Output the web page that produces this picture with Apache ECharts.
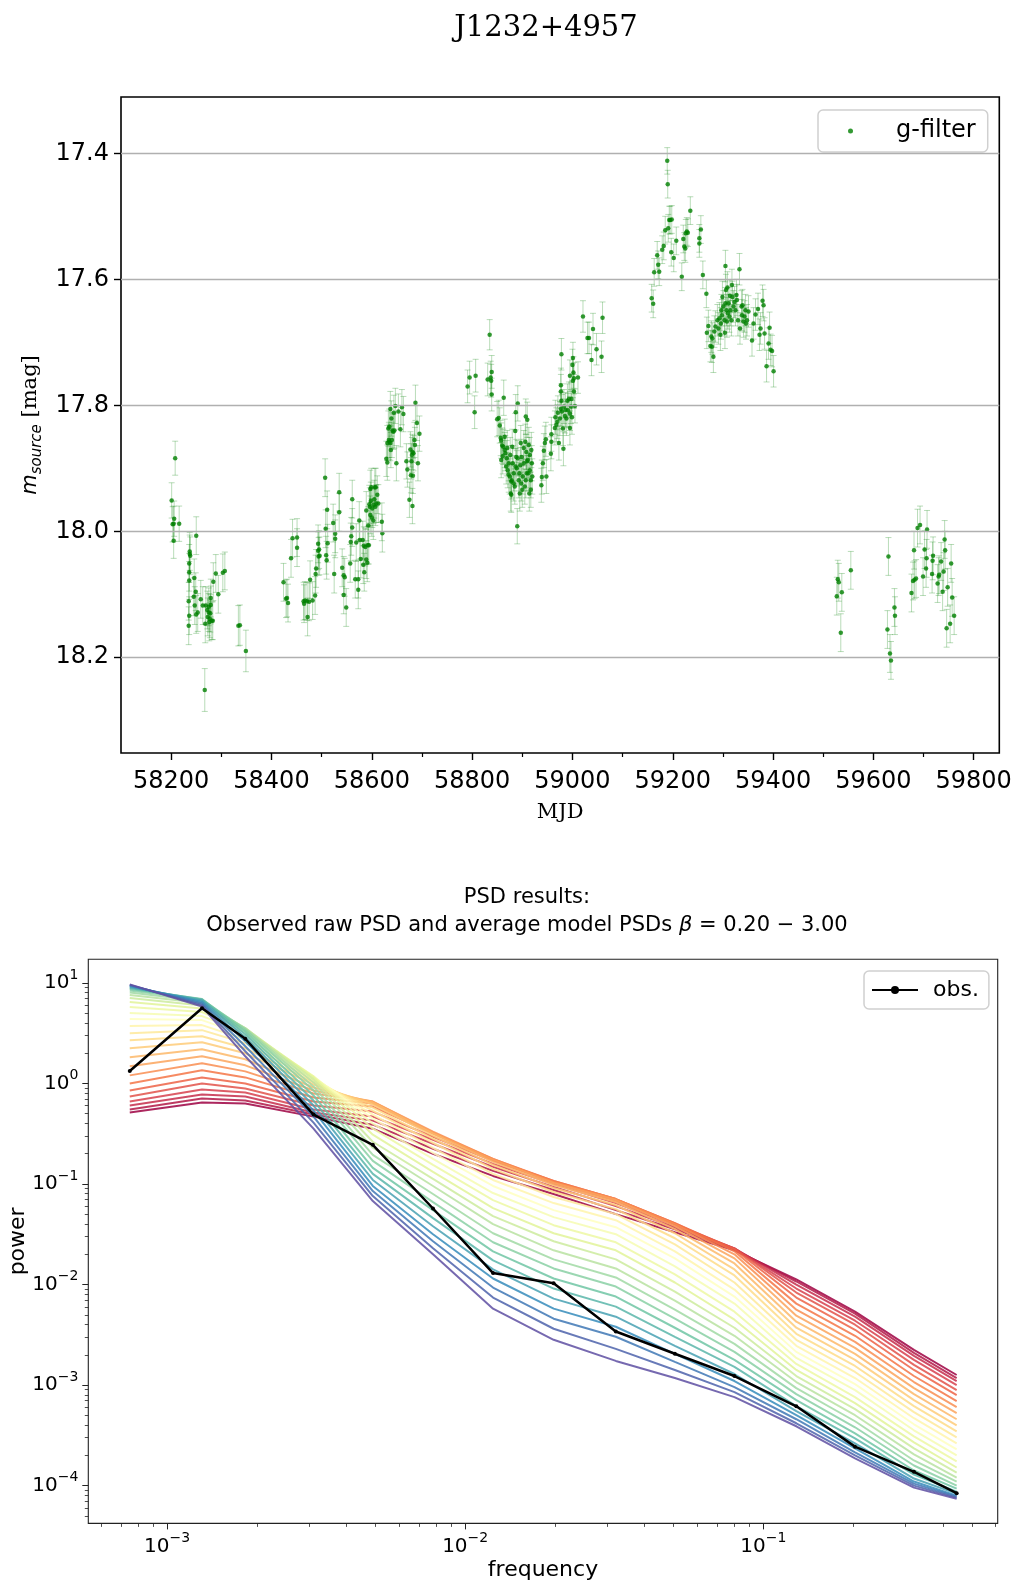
<!DOCTYPE html>
<html><head><meta charset="utf-8">
<script src="https://cdn.jsdelivr.net/npm/echarts@6/dist/echarts.min.js"></script>
<style>html,body{margin:0;padding:0;background:#fff}#c{width:1018px;height:1584px}</style>
</head><body><div id="c"></div>
<script>
// ===== Light curve (g-filter): [MJD, m_source, error] =====
const lc2018a = [
[58201,17.951,0.028],[58203,17.989,0.028],[58205,17.988,0.028],[58206,17.980,0.028],[58205,18.015,0.028],[58208,17.884,0.027],[58216,17.988,0.028],
[58235,18.150,0.030],[58236,18.134,0.030],[58235,18.111,0.030],[58236,18.078,0.030],[58236,18.065,0.030],[58236,18.051,0.030],[58237,18.036,0.030],[58237,18.032,0.030],[58238,18.039,0.030],
[58245,18.104,0.030],[58247,18.118,0.030],[58246,18.074,0.030],[58249,18.096,0.030],[58250,18.007,0.030],[58250,18.132,0.030],[58253,18.129,0.030],[58259,18.108,0.030],[58263,18.118,0.030],
[58268,18.147,0.030],[58269,18.118,0.030],[58272,18.125,0.030],[58273,18.136,0.030],[58275,18.129,0.030],[58275,18.120,0.030],[58276,18.144,0.030],[58277,18.139,0.030],[58278,18.130,0.030],
[58279,18.106,0.030],[58279,18.117,0.030],[58281,18.142,0.030],[58283,18.142,0.030],[58284,18.080,0.030],[58289,18.067,0.030],[58294,18.100,0.030],[58303,18.066,0.030],[58307,18.063,0.030],
[58267,18.252,0.034],[58334,18.150,0.032],[58337,18.149,0.032],[58349,18.190,0.033]
];
const lc2018b = [
[58424,18.081,0.030],[58429,18.107,0.030],[58431,18.106,0.030],[58433,18.114,0.030],[58439,18.043,0.030],[58442,18.011,0.030],[58451,18.010,0.030],[58451,18.026,0.030],
[58464,18.111,0.030],[58465,18.115,0.030],[58467,18.110,0.030],[58471,18.111,0.030],[58472,18.136,0.030],[58475,18.112,0.030],[58477,18.077,0.030],[58482,18.110,0.030],
[58487,18.102,0.030],[58488,18.068,0.030],[58489,18.059,0.030],[58493,18.020,0.030],[58493,18.031,0.030],[58494,18.040,0.030],[58495,18.029,0.030],[58496,18.039,0.030],
[58507,17.915,0.030],[58508,17.996,0.030],[58509,18.038,0.030],[58510,18.046,0.030],[58511,17.966,0.030],[58512,18.019,0.030],[58523,17.987,0.030],[58525,18.068,0.030],
[58527,18.004,0.030],[58527,18.012,0.030],[58535,17.938,0.030],[58535,17.970,0.030],[58541,18.058,0.030],[58544,18.070,0.030],[58546,18.073,0.030],[58544,18.101,0.030],
[58549,18.121,0.030],[58557,18.051,0.030],[58558,18.017,0.030],[58559,18.008,0.030],[58561,17.994,0.030],[58561,17.949,0.030],[58567,18.076,0.030],[58569,18.018,0.030],
[58573,18.076,0.030],[58573,18.093,0.030],[58575,17.983,0.030],[58576,18.014,0.030],[58578,18.044,0.030],[58582,18.014,0.030],[58583,18.053,0.030],[58584,18.023,0.030],
[58585,18.065,0.030],[58587,18.025,0.030],[58589,17.967,0.030],[58589,18.045,0.030],[58591,18.050,0.030],[58592,18.022,0.030],[58593,17.991,0.030],[58594,18.022,0.030],
[58595,17.957,0.030],[58596,17.961,0.030],[58597,17.974,0.030],[58597,17.933,0.030],[58598,17.952,0.030],[58599,17.930,0.030],[58600,17.978,0.030],[58601,17.964,0.030],
[58603,17.983,0.030],[58604,17.958,0.030],[58605,17.949,0.030],[58606,17.930,0.030],[58607,17.961,0.030],[58608,17.930,0.030],[58609,17.956,0.030],[58611,17.942,0.030],
[58613,17.956,0.030],[58620,17.985,0.030],[58621,18.003,0.030]
];
const lc2019a = [
[58629,17.885,0.028],[58631,17.891,0.028],[58631,17.860,0.028],[58633,17.837,0.028],[58634,17.855,0.028],[58635,17.858,0.028],[58635,17.834,0.028],[58637,17.860,0.028],
[58637,17.806,0.028],[58638,17.871,0.028],[58639,17.821,0.028],[58640,17.855,0.028],[58641,17.840,0.028],[58643,17.842,0.028],[58644,17.812,0.028],[58645,17.840,0.028],
[58647,17.801,0.028],[58649,17.892,0.028],[58653,17.810,0.028],[58657,17.838,0.028],[58660,17.803,0.028],[58663,17.814,0.028],[58669,17.889,0.028],[58671,17.902,0.028],
[58675,17.950,0.028],[58677,17.870,0.028],[58678,17.911,0.028],[58679,17.889,0.028],[58680,17.879,0.028],[58681,17.874,0.028],[58681,17.960,0.028],[58682,17.912,0.028],
[58683,17.876,0.028],[58685,17.855,0.028],[58686,17.863,0.028],[58687,17.796,0.028],[58690,17.828,0.028],[58692,17.892,0.028],[58695,17.845,0.028]
];
const lc2019b = [
[58791,17.770,0.026],[58795,17.756,0.026],[58805,17.811,0.026],[58807,17.753,0.026],[58831,17.759,0.026],[58835,17.688,0.024],[58837,17.756,0.026],[58838,17.761,0.026],[58839,17.747,0.026],[58839,17.783,0.026],
[58850,17.822,0.028],[58853,17.820,0.028],[58855,17.832,0.028],[58857,17.852,0.028],[58858,17.856,0.028],[58858,17.887,0.028],[58860,17.864,0.028],[58862,17.866,0.028],[58863,17.788,0.028],[58865,17.871,0.028],
[58866,17.876,0.028],[58868,17.897,0.028],[58869,17.884,0.028],[58871,17.903,0.028],[58873,17.910,0.028],[58875,17.913,0.028],[58877,17.940,0.028],[58878,17.921,0.028],[58879,17.919,0.028],[58881,17.892,0.028],
[58883,17.908,0.028],[58885,17.929,0.028],[58886,17.841,0.028],[58887,17.811,0.028],[58888,17.882,0.028],[58889,17.900,0.028],[58890,17.992,0.028],[58891,17.797,0.028],[58893,17.919,0.028],[58895,17.940,0.028],
[58896,17.895,0.028],[58898,17.924,0.028],[58899,17.882,0.028],[58901,17.913,0.028],[58903,17.892,0.028],[58905,17.929,0.028],[58906,17.858,0.028],[58907,17.818,0.028],[58908,17.874,0.028],[58909,17.908,0.028],
[58910,17.823,0.028],[58911,17.887,0.028],[58913,17.863,0.028],[58914,17.940,0.028],[58915,17.903,0.028],[58917,17.919,0.028],[58918,17.871,0.028],[58919,17.892,0.028],
[58861,17.881,0.028],[58865,17.850,0.028],[58870,17.868,0.028],[58873,17.892,0.028],[58876,17.879,0.028],[58880,17.866,0.028],[58883,17.924,0.028],[58887,17.897,0.028],[58891,17.884,0.028],[58894,17.908,0.028],
[58897,17.860,0.028],[58900,17.934,0.028],[58903,17.868,0.028],[58907,17.919,0.028],[58909,17.889,0.028],[58912,17.908,0.028],[58915,17.879,0.028],[58917,17.934,0.028],[58920,17.913,0.028],[58878,17.942,0.028],
[58938,17.927,0.027],[58939,17.914,0.027],[58941,17.892,0.027],[58943,17.872,0.027],[58945,17.860,0.027],[58947,17.854,0.027],[58948,17.913,0.027],[58957,17.877,0.027],[58958,17.858,0.027],[58958,17.846,0.027],
[58965,17.836,0.027],[58966,17.819,0.027],[58968,17.831,0.027],[58970,17.826,0.027],[58971,17.812,0.027],[58973,17.860,0.027],[58975,17.821,0.027],[58977,17.806,0.027],[58978,17.793,0.027],[58979,17.810,0.027],
[58981,17.837,0.027],[58982,17.869,0.027],[58983,17.802,0.027],[58985,17.817,0.027],[58986,17.807,0.027],[58988,17.821,0.027],[58990,17.793,0.027],[58991,17.808,0.027],[58993,17.790,0.027],[58995,17.813,0.027],
[58995,17.836,0.027],[58997,17.802,0.027],[58998,17.790,0.027],[58999,17.819,0.027],[59001,17.761,0.027],[59003,17.778,0.027],[59005,17.801,0.027],[58977,17.768,0.027],[58977,17.778,0.027],
[58978,17.719,0.025],[59000,17.736,0.025],[59001,17.725,0.025],[59002,17.748,0.025],[59003,17.757,0.025],[59011,17.756,0.025],[58995,17.753,0.025],[59021,17.659,0.025],[59030,17.693,0.025],[59033,17.693,0.025],
[59038,17.728,0.025],[59041,17.679,0.025],[59048,17.711,0.025],[59058,17.723,0.025],[59060,17.661,0.025]
];
const lc2021 = [
[59158,17.630,0.022],[59161,17.639,0.022],[59163,17.589,0.022],[59169,17.562,0.022],[59171,17.577,0.022],[59173,17.588,0.022],[59179,17.553,0.022],[59182,17.547,0.022],[59185,17.522,0.022],[59190,17.449,0.022],
[59189,17.412,0.021],[59191,17.519,0.022],[59193,17.506,0.022],[59195,17.506,0.022],[59198,17.505,0.022],[59197,17.557,0.022],[59202,17.566,0.022],[59207,17.539,0.022],[59218,17.596,0.022],[59221,17.536,0.022],
[59223,17.548,0.022],[59225,17.551,0.022],[59226,17.527,0.022],[59228,17.524,0.022],[59230,17.526,0.022],[59235,17.491,0.022],[59253,17.535,0.022],[59253,17.543,0.022],[59256,17.521,0.022],[59260,17.593,0.022],
[59267,17.623,0.022],
[59268,17.685,0.025],[59271,17.674,0.025],[59275,17.706,0.025],[59277,17.691,0.025],[59278,17.707,0.025],[59279,17.694,0.025],[59281,17.723,0.025],[59283,17.683,0.025],[59285,17.675,0.025],[59289,17.665,0.025],
[59291,17.678,0.025],[59293,17.662,0.025],[59295,17.688,0.025],[59296,17.670,0.025],[59297,17.649,0.025],[59298,17.657,0.025],[59299,17.628,0.025],[59301,17.643,0.025],[59303,17.665,0.025],[59304,17.685,0.025],
[59305,17.638,0.025],[59305,17.579,0.025],[59306,17.617,0.025],[59307,17.649,0.025],[59308,17.667,0.025],[59309,17.613,0.025],[59310,17.654,0.025],[59311,17.638,0.025],[59313,17.659,0.025],[59314,17.626,0.025],
[59315,17.649,0.025],[59317,17.665,0.025],[59318,17.609,0.025],[59319,17.628,0.025],[59321,17.643,0.025],[59323,17.636,0.025],[59325,17.649,0.025],[59327,17.625,0.025],[59328,17.633,0.025],[59330,17.665,0.025],
[59333,17.584,0.025],[59334,17.678,0.025],[59337,17.643,0.025],[59338,17.657,0.025],[59339,17.641,0.025],[59341,17.667,0.025],[59343,17.659,0.025],[59345,17.649,0.025],[59346,17.670,0.025],[59348,17.665,0.025],
[59351,17.651,0.025],[59358,17.697,0.025],[59361,17.670,0.025],[59365,17.656,0.025],[59370,17.647,0.025],[59373,17.688,0.025],[59375,17.678,0.025],[59379,17.634,0.025],[59381,17.641,0.025],[59383,17.686,0.025],
[59387,17.738,0.025],[59391,17.702,0.025],[59393,17.677,0.025],[59395,17.712,0.025],[59398,17.714,0.025],[59401,17.746,0.025]
];
const lc2022 = [
[59527,18.103,0.030],[59529,18.076,0.030],[59531,18.081,0.030],[59537,18.097,0.030],[59535,18.161,0.030],[59555,18.062,0.030],
[59628,18.156,0.030],[59630,18.040,0.030],[59633,18.194,0.030],[59635,18.205,0.030],[59642,18.121,0.030],[59643,18.134,0.030],
[59676,18.098,0.030],[59679,18.079,0.030],[59682,18.077,0.030],[59685,18.075,0.030],[59681,18.030,0.030],[59688,17.995,0.030],[59693,17.990,0.030],[59699,18.072,0.030],
[59702,18.029,0.030],[59705,18.059,0.030],[59706,18.043,0.030],[59707,17.997,0.030],[59717,18.068,0.030],[59718,18.047,0.030],[59719,18.039,0.030],[59728,18.083,0.030],
[59730,18.072,0.030],[59731,18.069,0.030],[59735,18.048,0.030],[59738,18.096,0.030],[59740,18.064,0.030],[59742,18.013,0.030],[59743,18.030,0.030],[59746,18.154,0.030],
[59748,18.089,0.030],[59753,18.147,0.030],[59755,18.051,0.030],[59757,18.105,0.030],[59761,18.134,0.030]
];
const mjdMajorTicks = [58200,58400,58600,58800,59000,59200,59400,59600,59800];
const mjdMinorTicks = [58300,58500,58700,58900,59100,59300,59500,59700];
const magTicks = [17.4,17.6,17.8,18.0,18.2];

// ===== PSD =====
const frequency = [7.5e-4,1.31e-3,1.83e-3,3.1e-3,4.9e-3,7.8e-3,1.24e-2,1.98e-2,3.2e-2,5.05e-2,8.0e-2,0.129,0.203,0.32,0.445];
const obsPower = [1.33,5.6,2.78,0.49,0.245,0.057,0.0130,0.0103,3.41e-3,2.05e-3,1.23e-3,6.15e-4,2.44e-4,1.37e-4,8.4e-5];
const betas = [0.2,0.3,0.4,0.5,0.6,0.7,0.8,0.9,1.0,1.1,1.2,1.3,1.4,1.5,1.6,1.7,1.8,1.9,2.0,2.1,2.2,2.3,2.4,2.5,2.6,2.7,2.8,2.9,3.0];
// log10(model power), one row per frequency, one entry per beta (0.2 ... 3.0)
const modelLogPowerByFreq = [
[-0.29,-0.26,-0.22,-0.18,-0.13,-0.07,0.0,0.08,0.17,0.26,0.35,0.43,0.50,0.57,0.64,0.70,0.76,0.81,0.85,0.88,0.905,0.925,0.94,0.95,0.96,0.97,0.975,0.98,0.985],
[-0.19,-0.15,-0.11,-0.06,0.0,0.06,0.13,0.20,0.27,0.34,0.41,0.47,0.53,0.58,0.63,0.67,0.71,0.745,0.775,0.80,0.82,0.835,0.84,0.835,0.825,0.81,0.795,0.78,0.765],
[-0.20,-0.17,-0.13,-0.09,-0.05,0.0,0.06,0.12,0.18,0.24,0.30,0.35,0.40,0.44,0.48,0.51,0.53,0.545,0.55,0.55,0.545,0.535,0.515,0.49,0.46,0.42,0.37,0.32,0.27],
[-0.33,-0.31,-0.29,-0.26,-0.22,-0.18,-0.14,-0.10,-0.07,-0.04,-0.01,0.01,0.03,0.05,0.06,0.07,0.07,0.06,0.04,0.01,-0.03,-0.07,-0.12,-0.17,-0.22,-0.27,-0.33,-0.39,-0.45],
[-0.45,-0.41,-0.37,-0.33,-0.28,-0.23,-0.20,-0.18,-0.18,-0.19,-0.21,-0.24,-0.27,-0.31,-0.35,-0.40,-0.45,-0.51,-0.58,-0.64,-0.71,-0.77,-0.84,-0.90,-0.96,-1.02,-1.07,-1.12,-1.17],
[-0.70,-0.65,-0.60,-0.56,-0.53,-0.50,-0.49,-0.48,-0.49,-0.50,-0.52,-0.55,-0.59,-0.64,-0.69,-0.75,-0.81,-0.88,-0.95,-1.02,-1.10,-1.18,-1.26,-1.34,-1.42,-1.50,-1.57,-1.64,-1.70],
[-0.92,-0.87,-0.83,-0.80,-0.77,-0.76,-0.75,-0.75,-0.76,-0.78,-0.81,-0.85,-0.90,-0.96,-1.02,-1.09,-1.16,-1.24,-1.32,-1.40,-1.49,-1.58,-1.67,-1.76,-1.85,-1.94,-2.03,-2.13,-2.24],
[-1.10,-1.06,-1.03,-1.00,-0.98,-0.97,-0.97,-0.98,-0.99,-1.01,-1.04,-1.08,-1.13,-1.19,-1.26,-1.33,-1.41,-1.49,-1.57,-1.66,-1.75,-1.84,-1.94,-2.04,-2.14,-2.24,-2.34,-2.44,-2.55],
[-1.30,-1.26,-1.22,-1.19,-1.17,-1.15,-1.15,-1.15,-1.16,-1.18,-1.21,-1.25,-1.30,-1.36,-1.43,-1.50,-1.58,-1.66,-1.75,-1.84,-1.93,-2.02,-2.12,-2.22,-2.32,-2.42,-2.52,-2.64,-2.76],
[-1.48,-1.45,-1.43,-1.41,-1.40,-1.39,-1.39,-1.40,-1.42,-1.45,-1.49,-1.54,-1.60,-1.67,-1.74,-1.82,-1.90,-1.98,-2.07,-2.16,-2.25,-2.34,-2.43,-2.52,-2.61,-2.69,-2.77,-2.85,-2.93],
[-1.66,-1.65,-1.64,-1.64,-1.64,-1.65,-1.67,-1.70,-1.74,-1.79,-1.85,-1.91,-1.98,-2.05,-2.12,-2.19,-2.27,-2.35,-2.43,-2.51,-2.59,-2.67,-2.75,-2.82,-2.89,-2.96,-3.02,-3.07,-3.12],
[-1.95,-1.97,-2.00,-2.04,-2.08,-2.13,-2.19,-2.25,-2.31,-2.37,-2.43,-2.49,-2.55,-2.61,-2.67,-2.73,-2.79,-2.85,-2.91,-2.97,-3.03,-3.09,-3.15,-3.21,-3.26,-3.30,-3.34,-3.38,-3.41],
[-2.27,-2.29,-2.32,-2.36,-2.40,-2.45,-2.51,-2.57,-2.63,-2.69,-2.75,-2.81,-2.87,-2.93,-2.99,-3.05,-3.12,-3.18,-3.24,-3.30,-3.36,-3.42,-3.48,-3.53,-3.58,-3.63,-3.67,-3.70,-3.73],
[-2.65,-2.68,-2.71,-2.75,-2.80,-2.85,-2.91,-2.97,-3.03,-3.09,-3.15,-3.21,-3.27,-3.33,-3.39,-3.45,-3.51,-3.57,-3.63,-3.69,-3.75,-3.80,-3.85,-3.89,-3.93,-3.96,-3.98,-4.00,-4.02],
[-2.90,-2.93,-2.96,-3.00,-3.05,-3.10,-3.16,-3.22,-3.28,-3.34,-3.40,-3.46,-3.52,-3.58,-3.64,-3.70,-3.76,-3.82,-3.87,-3.92,-3.96,-4.00,-4.03,-4.06,-4.08,-4.10,-4.11,-4.12,-4.13]
];
const freqMajorTicks = [0.001,0.01,0.1];
const freqMinorTicks = [6e-4,7e-4,8e-4,9e-4,2e-3,3e-3,4e-3,5e-3,6e-3,7e-3,8e-3,9e-3,0.02,0.03,0.04,0.05,0.06,0.07,0.08,0.09,0.2,0.3,0.4,0.5,0.6];
const powerMajorTicks = [1e-4,1e-3,1e-2,1e-1,1,10];
const powerMinorTicks = [5e-5,6e-5,7e-5,8e-5,9e-5,2e-4,3e-4,4e-4,5e-4,6e-4,7e-4,8e-4,9e-4,2e-3,3e-3,4e-3,5e-3,6e-3,7e-3,8e-3,9e-3,
  0.02,0.03,0.04,0.05,0.06,0.07,0.08,0.09,0.2,0.3,0.4,0.5,0.6,0.7,0.8,0.9,2,3,4,5,6,7,8,9];

// ===== styling helpers =====
const SANS = 'DejaVu Sans', SERIF = 'DejaVu Serif';
const spectral = ['#9e0142','#d53e4f','#f46d43','#fdae61','#fee08b','#ffffbf','#e6f598','#abdda4','#66c2a5','#3288bd','#5e4fa2'];
function hex2rgb(h){return [parseInt(h.slice(1,3),16),parseInt(h.slice(3,5),16),parseInt(h.slice(5,7),16)];}
function spectralColor(t){
  const p = t*(spectral.length-1); const i = Math.min(Math.floor(p), spectral.length-2); const f = p-i;
  const a = hex2rgb(spectral[i]), b = hex2rgb(spectral[i+1]);
  return 'rgb('+a.map((v,j)=>Math.round(v+(b[j]-v)*f)).join(',')+')';
}
function supLabel(v){
  const e = Math.round(Math.log10(v));
  return '{b|10}{s|' + (e<0 ? '\u2212'+(-e) : String(e)) + '}';
}
const supRich = {
  b:{fontSize:20, fontFamily:SANS, color:'#000', lineHeight:30},
  s:{fontSize:14, fontFamily:SANS, color:'#000', verticalAlign:'top', lineHeight:16}
};

const lcAll = [].concat(lc2018a, lc2018b, lc2019a, lc2019b, lc2021, lc2022);

const LC_X = [58100, 59851], LC_Y = [17.3106, 18.352];
const PSD_X = [Math.pow(10,-3.264), Math.pow(10,-0.214)];
const PSD_Y = [Math.pow(10,-4.376), Math.pow(10,1.2346)];

const series = [];
series.push({type:'scatter', xAxisIndex:0, yAxisIndex:0, data:[], silent:true, z:1,
  markLine:{silent:true, symbol:'none', label:{show:false}, animation:false,
    lineStyle:{color:'#b0b0b0', width:1.3, type:'solid'},
    data: magTicks.map(v=>({yAxis:v}))}});
series.push({type:'custom', name:'err', xAxisIndex:0, yAxisIndex:0, silent:true, z:2,
  data: lcAll, encode:{x:0, y:1},
  renderItem:function(params, api){
    const x = api.value(0), y = api.value(1), e = api.value(2);
    const p1 = api.coord([x, y-e]), p2 = api.coord([x, y+e]);
    const st = {stroke:'rgba(0,128,0,0.28)', lineWidth:1};
    return {type:'group', children:[
      {type:'line', shape:{x1:p1[0],y1:p1[1],x2:p2[0],y2:p2[1]}, style:st},
      {type:'line', shape:{x1:p1[0]-3,y1:p1[1],x2:p1[0]+3,y2:p1[1]}, style:st},
      {type:'line', shape:{x1:p2[0]-3,y1:p2[1],x2:p2[0]+3,y2:p2[1]}, style:st}
    ]};
  }});
series.push({type:'scatter', name:'g-filter', xAxisIndex:0, yAxisIndex:0, z:3,
  data: lcAll.map(d=>[d[0],d[1]]), symbol:'circle', symbolSize:4.5,
  itemStyle:{color:'#008000'}});

betas.forEach(function(b, k){
  series.push({type:'line', name:'beta '+b.toFixed(1), xAxisIndex:2, yAxisIndex:1, z:2+k*0.01,
    silent:true, showSymbol:false, animation:false,
    data: frequency.map((f,i)=>[f, Math.pow(10, modelLogPowerByFreq[i][k])]),
    lineStyle:{color:spectralColor(k/(betas.length-1)), width:2, opacity:0.85}});
});
series.push({type:'line', name:'obs.', xAxisIndex:2, yAxisIndex:1, z:5,
  data: frequency.map((f,i)=>[f, obsPower[i]]),
  symbol:'circle', symbolSize:4, showSymbol:true,
  itemStyle:{color:'#000'}, lineStyle:{color:'#000', width:2.5}});

const option = {
  animation:false,
  backgroundColor:'#fff',
  textStyle:{fontFamily:SANS},
  grid:[
    {left:121, top:97, width:878.3, height:656, show:true, borderColor:'#000', borderWidth:1.6, backgroundColor:'transparent', containLabel:false, outerBoundsMode:'none'},
    {left:88.3, top:959.3, width:909.4, height:564.1, show:true, borderColor:'#222', borderWidth:1.1, backgroundColor:'transparent', containLabel:false, outerBoundsMode:'none'}
  ],
  xAxis:[
    {type:'value', gridIndex:0, position:'bottom', min:LC_X[0], max:LC_X[1],
      name:'MJD', nameLocation:'middle', nameGap:49, nameTextStyle:{fontFamily:SERIF, fontSize:21, color:'#000'},
      axisLine:{show:false}, splitLine:{show:false},
      axisTick:{show:true, customValues:mjdMajorTicks, length:7, lineStyle:{color:'#000', width:1.4}},
      axisLabel:{customValues:mjdMajorTicks, fontSize:24, color:'#000', margin:17, fontFamily:SANS, formatter:v=>String(v)}},
    {type:'value', gridIndex:0, position:'bottom', min:LC_X[0], max:LC_X[1],
      axisLine:{show:false}, splitLine:{show:false}, axisLabel:{show:false},
      axisTick:{show:true, customValues:mjdMinorTicks, length:4, lineStyle:{color:'#000', width:1.2}}},
    {type:'log', logBase:10, gridIndex:1, position:'bottom', min:PSD_X[0], max:PSD_X[1],
      name:'frequency', nameLocation:'middle', nameGap:36, nameTextStyle:{fontFamily:SANS, fontSize:22, color:'#000'},
      axisLine:{show:false}, splitLine:{show:false},
      axisTick:{show:true, customValues:freqMajorTicks, length:6, lineStyle:{color:'#222', width:1}},
      axisLabel:{customValues:freqMajorTicks, formatter:supLabel, rich:supRich, margin:8}},
    {type:'log', logBase:10, gridIndex:1, position:'bottom', min:PSD_X[0], max:PSD_X[1],
      axisLine:{show:false}, splitLine:{show:false}, axisLabel:{show:false},
      axisTick:{show:true, customValues:freqMinorTicks, length:3.5, lineStyle:{color:'#222', width:0.8}}}
  ],
  yAxis:[
    {type:'value', gridIndex:0, position:'left', inverse:true, min:LC_Y[0], max:LC_Y[1],
      name:'{m|m}{s|source}{n| [mag]}', nameLocation:'middle', nameGap:76,
      nameTextStyle:{color:'#000', rich:{
        m:{fontFamily:SANS, fontStyle:'italic', fontSize:21, lineHeight:28, color:'#000'},
        s:{fontFamily:SANS, fontStyle:'italic', fontSize:15, verticalAlign:'bottom', lineHeight:18, color:'#000'},
        n:{fontFamily:SERIF, fontSize:21, lineHeight:28, color:'#000'}}},
      axisLine:{show:false}, splitLine:{show:false},
      axisTick:{show:true, customValues:magTicks, length:7, lineStyle:{color:'#000', width:1.4}},
      axisLabel:{customValues:magTicks, fontSize:24, color:'#000', margin:12, fontFamily:SANS,
        formatter:v=>v.toFixed(1)}},
    {type:'log', logBase:10, gridIndex:1, position:'left', min:PSD_Y[0], max:PSD_Y[1],
      name:'power', nameLocation:'middle', nameGap:59, nameMoveOverlap:false,
      nameTextStyle:{fontFamily:SANS, fontSize:22, color:'#000'},
      axisLine:{show:false}, splitLine:{show:false},
      axisTick:{show:true, customValues:powerMajorTicks, length:6, lineStyle:{color:'#222', width:1}},
      axisLabel:{customValues:powerMajorTicks, formatter:supLabel, rich:supRich, margin:10}},
    {type:'log', logBase:10, gridIndex:1, position:'left', min:PSD_Y[0], max:PSD_Y[1],
      axisLine:{show:false}, splitLine:{show:false}, axisLabel:{show:false},
      axisTick:{show:true, customValues:powerMinorTicks, length:3.5, lineStyle:{color:'#222', width:0.8}}}
  ],
  legend:[
    {data:['g-filter'], left:818, top:110, orient:'vertical', padding:[9,12,9,30],
      itemWidth:5, itemHeight:5, icon:'circle', backgroundColor:'#fff',
      borderColor:'#d0d0d0', borderWidth:1.5, borderRadius:5,
      textStyle:{fontSize:24, fontFamily:SANS, color:'#000', padding:[0,0,0,38]}},
    {data:['obs.'], left:864, top:971, orient:'vertical', padding:[8,10,8,7],
      itemWidth:46, itemHeight:10, backgroundColor:'#fff',
      borderColor:'#d0d0d0', borderWidth:1.5, borderRadius:5,
      textStyle:{fontSize:22, fontFamily:SANS, color:'#000', padding:[0,0,0,10]}}
  ],
  graphic:[
    {type:'text', x:546, y:28, style:{text:'J1232+4957', fontFamily:SERIF, fontSize:29, fill:'#000', align:'center', verticalAlign:'middle', textAlign:'center', textVerticalAlign:'middle'}},
    {type:'text', x:527, y:898, style:{text:'PSD results:', fontFamily:SANS, fontSize:21, fill:'#000', align:'center', verticalAlign:'middle', textAlign:'center', textVerticalAlign:'middle'}},
    {type:'text', x:527, y:926, style:{text:'Observed raw PSD and average model PSDs {i|\u03b2} = 0.20 \u2212 3.00', fontFamily:SANS, fontSize:21, fill:'#000',
      align:'center', verticalAlign:'middle', textAlign:'center', textVerticalAlign:'middle',
      rich:{i:{fontFamily:SANS, fontStyle:'italic', fontSize:21, fill:'#000'}}}}
  ],
  series: series
};
const chart = echarts.init(document.getElementById('c'), null, {renderer:'canvas', width:1018, height:1584});
chart.setOption(option);
</script>
</body></html>
